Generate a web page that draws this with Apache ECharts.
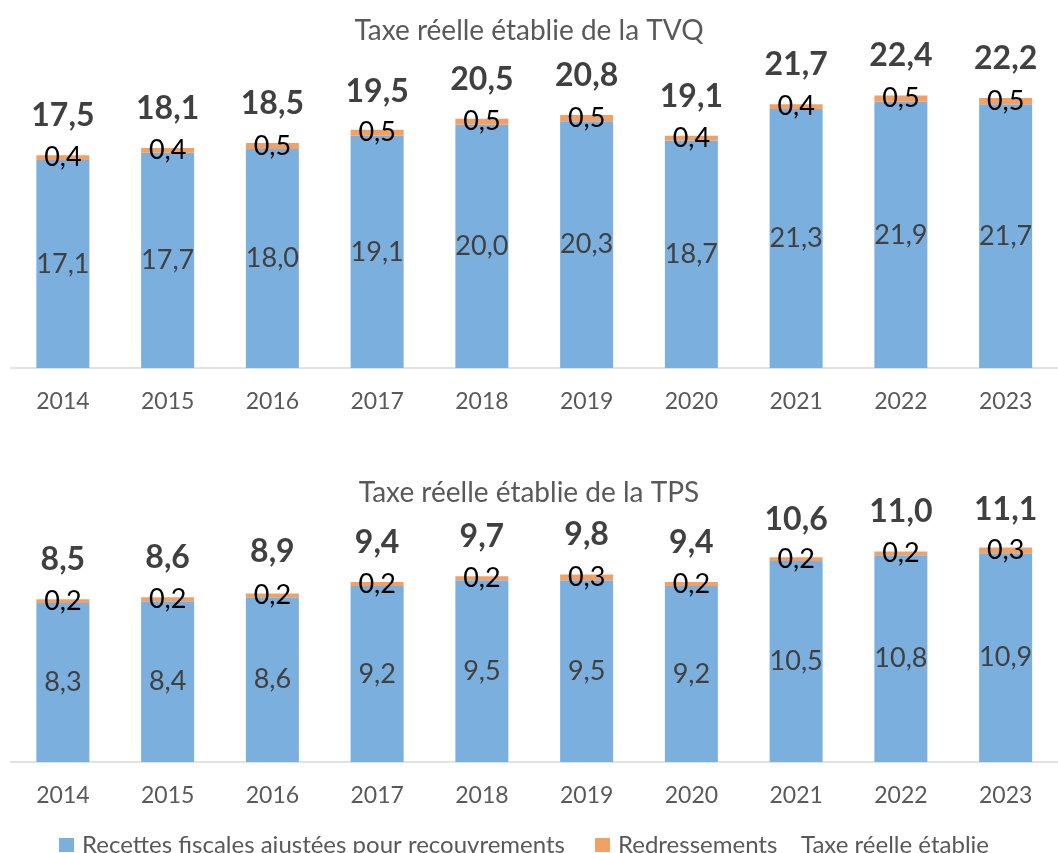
<!DOCTYPE html>
<html>
<head>
<meta charset="utf-8">
<script src="https://cdn.jsdelivr.net/npm/echarts@6/dist/echarts.min.js"></script>
<style>
  html, body { margin: 0; padding: 0; background: #fff; }
  #chart { width: 1058px; height: 853px; }
</style>
</head>
<body>
<div id="chart"></div>
<script>
  var years = ['2014', '2015', '2016', '2017', '2018', '2019', '2020', '2021', '2022', '2023'];

  // TVQ
  var tvqRecettes = [17.1, 17.7, 18.0, 19.1, 20.0, 20.3, 18.7, 21.3, 21.9, 21.7];
  var tvqRedress = [0.4, 0.4, 0.5, 0.5, 0.5, 0.5, 0.4, 0.4, 0.5, 0.5];
  var tvqTotal = [17.5, 18.1, 18.5, 19.5, 20.5, 20.8, 19.1, 21.7, 22.4, 22.2];

  // TPS
  var tpsRecettes = [8.3, 8.4, 8.6, 9.2, 9.5, 9.5, 9.2, 10.5, 10.8, 10.9];
  var tpsRedress = [0.2, 0.2, 0.2, 0.2, 0.2, 0.3, 0.2, 0.2, 0.2, 0.3];
  var tpsTotal = [8.5, 8.6, 8.9, 9.4, 9.7, 9.8, 9.4, 10.6, 11.0, 11.1];

  var nameRecettes = 'Recettes fiscales ajustées pour recouvrements';
  var nameRedress = 'Redressements';
  var nameTotal = 'Taxe réelle établie';

  var blue = '#7bafdd';
  var orange = '#f2a064';
  var font = 'Lato';

  function fr(p) {
    return p.value.toFixed(1).replace('.', ',');
  }

  function xAxisFor(idx) {
    return {
      type: 'category',
      gridIndex: idx,
      data: years,
      axisTick: { show: false },
      axisLine: { lineStyle: { color: '#d9d9d9', width: 1.5 } },
      axisLabel: { color: '#595959', fontSize: 23, fontFamily: font, margin: 22 }
    };
  }

  function seriesFor(idx, rec, red, tot) {
    return [
      {
        name: nameRecettes, type: 'bar', stack: 's' + idx,
        xAxisIndex: idx, yAxisIndex: idx,
        data: rec, barWidth: 53,
        itemStyle: { color: blue },
        label: { show: true, position: 'inside', formatter: fr, color: '#404040', fontSize: 27, fontFamily: font }
      },
      {
        name: nameRedress, type: 'bar', stack: 's' + idx,
        xAxisIndex: idx, yAxisIndex: idx,
        data: red, barWidth: 53,
        itemStyle: { color: orange },
        label: { show: true, position: 'inside', formatter: fr, color: '#000', fontSize: 27, fontFamily: font }
      },
      {
        // total shown only as labels above the stacks
        name: nameTotal, type: 'line',
        xAxisIndex: idx, yAxisIndex: idx,
        data: tot, symbol: 'circle', symbolSize: 1, showSymbol: true,
        itemStyle: { color: 'rgba(0,0,0,0)' },
        lineStyle: { width: 0, color: 'rgba(0,0,0,0)' },
        label: { show: true, position: 'top', distance: 23, formatter: fr, color: '#404040', fontSize: 32, fontWeight: 'bold', fontFamily: font }
      }
    ];
  }

  var legendText = { color: '#595959', fontSize: 24, fontFamily: font, padding: [0, 0, 0, 3] };

  var chart = echarts.init(document.getElementById('chart'));
  chart.setOption({
    animation: false,
    title: [
      { text: 'Taxe réelle établie de la TVQ', left: 'center', top: 12, textStyle: { color: '#595959', fontSize: 28, fontWeight: 'normal', fontFamily: font } },
      { text: 'Taxe réelle établie de la TPS', left: 'center', top: 474, textStyle: { color: '#595959', fontSize: 28, fontWeight: 'normal', fontFamily: font } }
    ],
    legend: [
      {
        left: 54, top: 828,
        itemWidth: 15, itemHeight: 14, itemGap: 30,
        textStyle: legendText,
        data: [
          { name: nameRecettes, icon: 'rect', itemStyle: { color: blue } },
          { name: nameRedress, icon: 'rect', itemStyle: { color: orange } }
        ]
      },
      {
        left: 787, top: 828,
        itemWidth: 1, itemHeight: 14,
        textStyle: legendText,
        data: [
          { name: nameTotal, icon: 'rect', itemStyle: { color: 'rgba(0,0,0,0)' } }
        ]
      }
    ],
    grid: [
      { left: 10.5, width: 1063, top: 64, height: 304 },
      { left: 10.5, width: 1063, top: 494, height: 268 }
    ],
    xAxis: [xAxisFor(0), xAxisFor(1)],
    yAxis: [
      { type: 'value', gridIndex: 0, min: 0, max: 25, show: false },
      { type: 'value', gridIndex: 1, min: 0, max: 14, show: false }
    ],
    series: seriesFor(0, tvqRecettes, tvqRedress, tvqTotal).concat(seriesFor(1, tpsRecettes, tpsRedress, tpsTotal))
  });
</script>
</body>
</html>
